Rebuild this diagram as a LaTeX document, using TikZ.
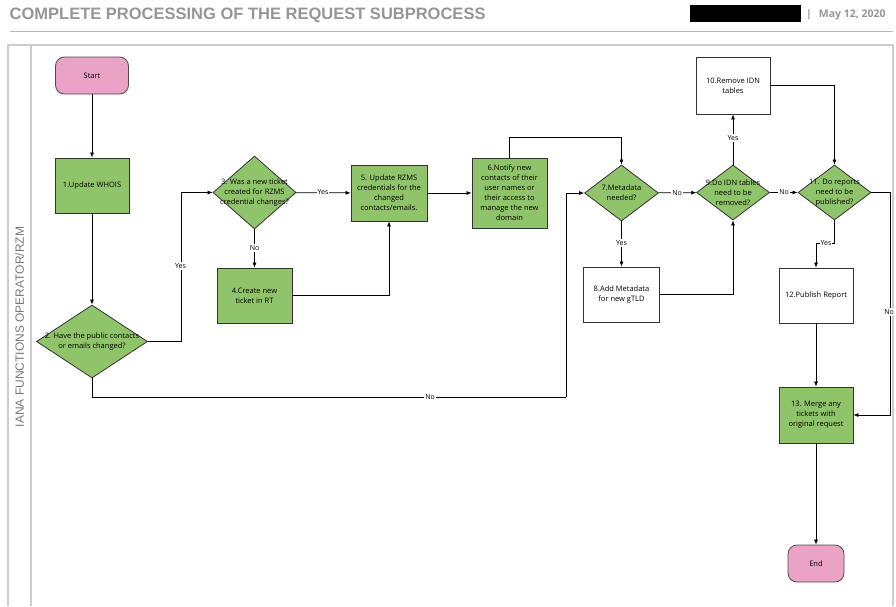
\documentclass[tikz,border=0pt]{standalone}
\usepackage{fontspec}
\setmainfont{Open Sans}
\newfontfamily\hdfont{Liberation Sans}
\usetikzlibrary{shapes.geometric,arrows.meta}
\definecolor{boxgreen}{RGB}{144,196,106}
\definecolor{termpink}{RGB}{234,163,196}
\definecolor{framegray}{RGB}{205,205,205}
\definecolor{titlegray}{RGB}{150,150,150}
\definecolor{lanegray}{RGB}{120,120,120}
\tikzset{
  every node/.style={font=\fontsize{7.5}{10}\selectfont, align=center, inner sep=0pt},
  proc/.style={draw=black!80, line width=0.8pt, fill=boxgreen},
  wbox/.style={draw=black!80, line width=0.8pt, fill=white},
  term/.style={draw=black!70, line width=0.8pt, fill=termpink, rounded corners=9pt},
  dia/.style={draw=black!80, line width=0.8pt, fill=boxgreen, diamond},
  flow/.style={draw=black, line width=0.7pt, -{Latex[length=5pt,width=4pt]}},
  plain/.style={draw=black, line width=0.7pt},
  lbl/.style={fill=white, font=\fontsize{7}{8}\selectfont, inner sep=1pt},
}
\begin{document}
\begin{tikzpicture}[x=1pt,y=-1pt]
\useasboundingbox (0,0) rectangle (896,606);
% header
\node[anchor=west, font=\hdfont\bfseries\fontsize{16.5}{18}\selectfont, text=titlegray] (title) at (9.5,15) {COMPLETE PROCESSING OF THE REQUEST SUBPROCESS};
\node[fill=black, minimum width=111pt, minimum height=17pt] (redact) at (745.5,13.5) {};
\node[anchor=west, font=\bfseries\fontsize{10.5}{12}\selectfont, text=titlegray] (date) at (806,15) {|\hspace{7pt}May 12, 2020};
\draw[framegray!90!black, line width=0.8pt] (10,31) -- (893,31);
% frame
\draw[framegray, line width=1.2pt] (8,606) -- (8,45) -- (893,45) -- (893,606);
\draw[framegray, line width=1.2pt] (31,45) -- (31,606);
\node[rotate=90, font=\hdfont\fontsize{12}{13}\selectfont, text=lanegray] (lane) at (19.5,327) {IANA FUNCTIONS OPERATOR/RZM};

% nodes
\node[term, minimum width=73pt, minimum height=37pt] (start) at (92,75.5) {Start};
\node[proc, minimum width=74pt, minimum height=55pt] (b1) at (92,185.5) {1.Update WHOIS};
\node[dia, minimum width=111pt, minimum height=73pt] (d2) at (92,341.5) {};
\node (t2) at (d2) {2. Have the public contacts\\or emails changed?};
\node[dia, minimum width=83pt, minimum height=73pt] (d3) at (254.5,192.5) {};
\node (t3) at (d3) {3. Was a new ticket\\created for RZMS\\credential changes?};
\node[proc, minimum width=75pt, minimum height=55pt] (b4) at (254.5,295.5) {4.Create new\\ticket in RT};
\node[proc, minimum width=76pt, minimum height=56pt] (b5) at (389,193) {5. Update RZMS\\credentials for the\\changed\\contacts/emails.};
\node[proc, minimum width=75pt, minimum height=70pt] (b6) at (509.5,193) {6.Notify new\\contacts of their\\user names or\\their access to\\manage the new\\domain};
\node[dia, minimum width=74pt, minimum height=56pt] (d7) at (621.5,193) {};
\node (t7) at (d7) {7.Metadata\\needed?};
\node[wbox, minimum width=76pt, minimum height=55pt] (b8) at (621.5,294.5) {8.Add Metadata\\for new gTLD};
\node[dia, minimum width=73pt, minimum height=55pt] (d9) at (733,192.5) {};
\node (t9) at (d9) {9.Do IDN tables\\need to be\\removed?};
\node[wbox, minimum width=74pt, minimum height=57pt] (b10) at (733,85.5) {10.Remove IDN\\tables};
\node[dia, minimum width=73pt, minimum height=55pt] (d11) at (834.5,192.5) {};
\node (t11) at (d11) {11. Do reports\\need to be\\published?};
\node[wbox, minimum width=74pt, minimum height=55pt] (b12) at (816,295.5) {12.Publish Report};
\node[proc, minimum width=74pt, minimum height=56pt] (b13) at (816,415) {13. Merge any\\tickets with\\original request};
\node[term, minimum width=56pt, minimum height=37pt] (end) at (816,563.5) {End};

\coordinate (j2) at (566,397);

% connectors
\draw[flow] (start) -- (b1);
\draw[flow] (b1) -- (d2);
\draw[flow] (d2.east) -- ++(33,0) |- (d3.west);
\draw[flow] (d3) -- (b4);
\draw[flow] (d3) -- (b5);
\draw[flow] (b4.east) -| (b5.south);
\draw[flow] (b5) -- (b6);
\draw[flow] (b6.north) -- ++(0,-20) -| (d7.north);
\draw[plain] (d2.south) |- (j2);
\draw[flow] (j2) |- (d7.west);
\draw[flow] (d7) -- (d9);
\draw[flow] (d7) -- (b8);
\draw[flow] (b8.east) -| (d9.south);
\draw[flow] (d9) -- (b10);
\draw[flow] (b10.east) -| (d11.north);
\draw[flow] (d9) -- (d11);
\draw[flow] (d11.east) -- ++(19,0) |- (b13.east);
\draw[flow] (d11.south) -- ++(0,23) -| (b12.north);
\draw[flow] (b12) -- (b13);
\draw[flow] (b13) -- (end);

% labels
\node[lbl] (l1) at (180.5,266) {Yes};
\node[lbl] (l2) at (254.5,248) {No};
\node[lbl] (l3) at (323,192.5) {Yes};
\node[lbl] (l4) at (430,397) {No};
\node[lbl] (l5) at (677,193) {No};
\node[lbl] (l6) at (621.5,243) {Yes};
\node[lbl] (l7) at (733,138) {Yes};
\node[lbl] (l8) at (784,192.5) {No};
\node[lbl] (l9) at (826,243) {Yes};
\node[lbl] (l10) at (889,312) {No};
\end{tikzpicture}
\end{document}
